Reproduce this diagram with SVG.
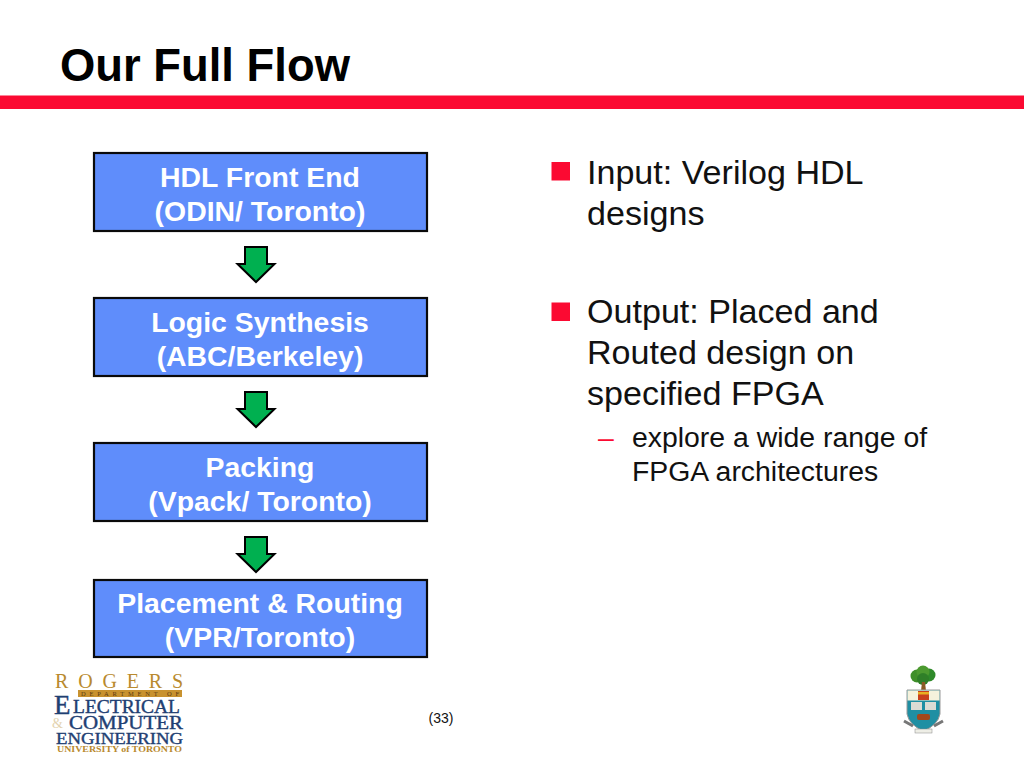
<svg xmlns="http://www.w3.org/2000/svg" width="1024" height="768" viewBox="0 0 1024 768">
<style>
text{font-family:"Liberation Sans",Arial,sans-serif}
.title{font-size:45.4px;font-weight:700;fill:#000}
.box{fill:#5f8dfb;stroke:#0a0a0a;stroke-width:2.2}
.bt{font-size:28.4px;font-weight:700;fill:#fff;text-anchor:middle}
.arr{fill:#00b050;stroke:#000;stroke-width:2;stroke-linejoin:miter}
.b1{font-size:34.1px;fill:#111}
.b2{font-size:28.4px;fill:#111}
.ser{font-family:"Liberation Serif",serif}
.navy{fill:#1f3f73;stroke:#1f3f73;stroke-width:.4}
.gold{fill:#b98a2e}
.red{fill:#fb0a32}
</style>
<defs><polygon id="dn" points="-11,0 11,0 11,17 18.500,17 0,35 -18.500,17 -11,17"/></defs>
<rect width="1024" height="768" fill="#fff"/>
<text class="title" x="60" y="81">Our Full Flow</text>
<rect class="red" x="0" y="95.500" width="1024" height="13.500"/>
<g id="node-hdl"><rect class="box" x="94" y="153" width="333" height="78"/><text class="bt" x="260" y="187">HDL Front End</text><text class="bt" x="260" y="221">(ODIN/ Toronto)</text></g>
<g id="node-logic"><rect class="box" x="94" y="298" width="333" height="78"/><text class="bt" x="260" y="332">Logic Synthesis</text><text class="bt" x="260" y="366">(ABC/Berkeley)</text></g>
<g id="node-packing"><rect class="box" x="94" y="443" width="333" height="78"/><text class="bt" x="260" y="477">Packing</text><text class="bt" x="260" y="511">(Vpack/ Toronto)</text></g>
<g id="node-place"><rect class="box" x="94" y="580" width="333" height="77"/><text class="bt" x="260" y="613">Placement &amp; Routing</text><text class="bt" x="260" y="647">(VPR/Toronto)</text></g>
<g id="connectors">
<use href="#dn" class="arr" x="256" y="247"/>
<use href="#dn" class="arr" x="256" y="392"/>
<use href="#dn" class="arr" x="256" y="537"/>
</g>
<g id="bullets">
<rect class="red" x="551.500" y="162" width="18.500" height="18.500"/>
<text class="b1" x="587" y="184">Input: Verilog HDL</text>
<text class="b1" x="587" y="225">designs</text>
<rect class="red" x="551.500" y="302.500" width="18.500" height="18.500"/>
<text class="b1" x="587" y="323">Output: Placed and</text>
<text class="b1" x="587" y="364">Routed design on</text>
<text class="b1" x="587" y="405">specified FPGA</text>
<text class="b2 red" x="598" y="447" style="fill:#fb0a32">–</text>
<text class="b2" x="632" y="447">explore a wide range of</text>
<text class="b2" x="632" y="481">FPGA architectures</text>
</g>
<text x="441" y="723" font-size="14" text-anchor="middle" fill="#111">(33)</text>
<g id="logo-rogers">
<text class="ser gold" x="55" y="688" font-size="20" textLength="128" lengthAdjust="spacing">ROGERS</text>
<rect x="78" y="690" width="104" height="7" fill="#c8922f"/>
<text class="ser" x="130" y="696" font-size="6.500" text-anchor="middle" textLength="98" fill="#5a3a10">DEPARTMENT OF</text>
<text class="ser navy" x="54" y="714" font-size="27">E</text>
<text class="ser navy" x="73" y="713" font-size="18" textLength="107" lengthAdjust="spacingAndGlyphs">LECTRICAL</text>
<text class="ser" x="52" y="728" font-size="14" fill="#e3d3b0">&amp;</text>
<text class="ser navy" x="69" y="729" font-size="18" textLength="114" lengthAdjust="spacingAndGlyphs">COMPUTER</text>
<text class="ser navy" x="56" y="743.500" font-size="17" textLength="127" lengthAdjust="spacingAndGlyphs">ENGINEERING</text>
<text class="ser gold" x="57" y="752" font-size="9" font-weight="700" textLength="125" lengthAdjust="spacingAndGlyphs">UNIVERSITY of TORONTO</text>
</g>
<g id="logo-crest">
<circle cx="917" cy="676" r="6.500" fill="#3f8f2a"/><circle cx="929" cy="675" r="6.500" fill="#2f8a2a"/><circle cx="923" cy="672" r="6.500" fill="#4c9a30"/><circle cx="923" cy="679" r="6" fill="#2f7f28"/>
<path d="M922 682h3l1 9h-5z" fill="#8a5a24"/>
<path d="M907 690h33v24q-2 11-16.500 17q-14.500-6-16.500-17z" fill="#1f8fa3" stroke="#9a9a9a" stroke-width="1"/>
<rect x="907.500" y="690.500" width="32" height="10" fill="#f5f2dc"/>
<rect x="918" y="691" width="11" height="9" fill="#c8401c"/>
<rect x="918" y="692" width="11" height="2.500" fill="#e8b020"/>
<rect x="911" y="702" width="11" height="8" fill="#dcdcd4"/>
<rect x="925" y="702" width="11" height="8" fill="#dcdcd4"/>
<rect x="917" y="714" width="13" height="6" rx="2" fill="#a3481c"/>
<path d="M904 721l9 5M943 721l-9 5" stroke="#777" stroke-width="3"/>
<rect x="915" y="729" width="17" height="4" fill="#eeeee6" stroke="#888" stroke-width="0.500"/>
</g>
</svg>
